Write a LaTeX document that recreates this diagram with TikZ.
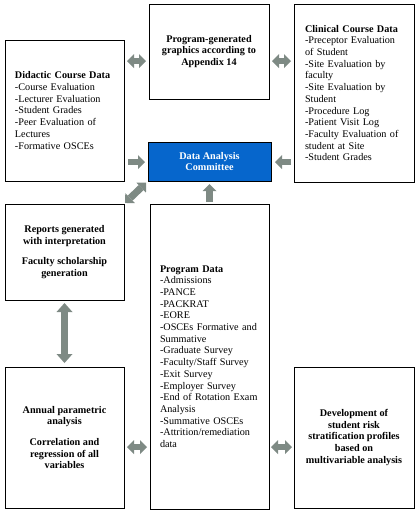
\documentclass[tikz,border=0pt]{standalone}
\usepackage{fontspec}
\setmainfont{Liberation Serif}
\usetikzlibrary{arrows.meta}
\definecolor{arrgray}{RGB}{126,138,132}
\definecolor{dacblue}{RGB}{6,102,204}
\begin{document}
\begin{tikzpicture}[x=1pt,y=-1pt,
  txt/.style={font=\fontsize{10.2}{11.7}\selectfont},
  btxt/.style={font=\fontsize{10.2}{11.7}\selectfont\bfseries},
  box/.style={draw=black, line width=0.9pt, inner ysep=0pt, outer sep=0pt},
  lbox/.style={box, txt, align=left, inner xsep=10pt},
  cbox/.style={box, btxt, align=center, inner xsep=0pt},
  smtip/.tip={Triangle[length=7pt,width=14pt,line width=0pt]},
  bgtip/.tip={Triangle[length=9pt,width=16pt,line width=0pt]},
  sarr/.style={draw=arrgray, line width=6.5pt, -smtip},
  darr/.style={draw=arrgray, line width=6.5pt, smtip-smtip},
  varr/.style={draw=arrgray, line width=7pt, bgtip-bgtip}
]
\useasboundingbox (0,0) rectangle (417,512);

\node[lbox, text width=99pt, minimum width=119pt, minimum height=141pt] (did) at (64.5,110.5)
  {\textbf{Didactic Course Data}\\-Course Evaluation\\-Lecturer Evaluation\\-Student Grades\\-Peer Evaluation of\\Lectures\\-Formative OSCEs};

\node[cbox, minimum width=120pt, minimum height=95pt] (pg) at (209,51.5)
  {Program-generated\\graphics according to\\Appendix 14};

\node[lbox, inner xsep=11pt, text width=98pt, minimum width=120pt, minimum height=178pt] (clin) at (354,93)
  {\textbf{Clinical Course Data}\\-Preceptor Evaluation\\of Student\\-Site Evaluation by\\faculty\\-Site Evaluation by\\Student\\-Procedure Log\\-Patient Visit Log\\-Faculty Evaluation of\\student at Site\\-Student Grades};

\node[cbox, fill=dacblue, text=white, minimum width=123pt, minimum height=39pt] (dac) at (209.5,161.5)
  {Data Analysis\\Committee};

\node[cbox, minimum width=119pt, minimum height=96pt] (rep) at (64.5,252)
  {Reports generated\\with interpretation\\[9pt]Faculty scholarship\\generation};

\node[lbox, text width=99pt, minimum width=119pt, minimum height=305pt] (prog) at (209.5,356.5)
  {\textbf{Program Data}\\-Admissions\\-PANCE\\-PACKRAT\\-EORE\\-OSCEs Formative and\\Summative\\-Graduate Survey\\-Faculty/Staff Survey\\-Exit Survey\\-Employer Survey\\-End of Rotation Exam\\Analysis\\-Summative OSCEs\\-Attrition/remediation\\data};

\node[cbox, minimum width=119pt, minimum height=141pt] (ann) at (64.5,437.5)
  {Annual parametric\\analysis\\[9pt]Correlation and\\regression of all\\variables};

\node[cbox, minimum width=120pt, minimum height=141pt] (dev) at (354,437.5)
  {Development of\\student risk\\stratification profiles\\based on\\multivariable analysis};

% connectors
\draw[darr, shorten <=3pt, shorten >=3pt] (did.east |- 0,61) -- (pg.west |- 0,61);
\draw[darr, shorten <=3pt, shorten >=3pt] (pg.east |- 0,61) -- (clin.west |- 0,61);
\draw[sarr, shorten <=4pt, shorten >=3pt] (did.east |- 0,162) -- (dac.west |- 0,162);
\draw[sarr, shorten <=3pt, shorten >=4pt] (clin.west |- 0,162) -- (dac.east |- 0,162);
\draw[darr, line width=7pt, shorten <=1.5pt, shorten >=2.5pt] (rep.north east) -- (dac.south west);
\draw[sarr, shorten <=2pt, shorten >=3pt] (prog.north) -- (dac.south);
\draw[varr, shorten <=3pt, shorten >=4pt] (rep.south) -- (ann.north);
\draw[darr, shorten <=3pt, shorten >=3pt] (ann.east |- 0,447) -- (prog.west |- 0,447);
\draw[darr, shorten <=2pt, shorten >=2pt] (prog.east |- 0,447) -- (dev.west |- 0,447);
\end{tikzpicture}
\end{document}
